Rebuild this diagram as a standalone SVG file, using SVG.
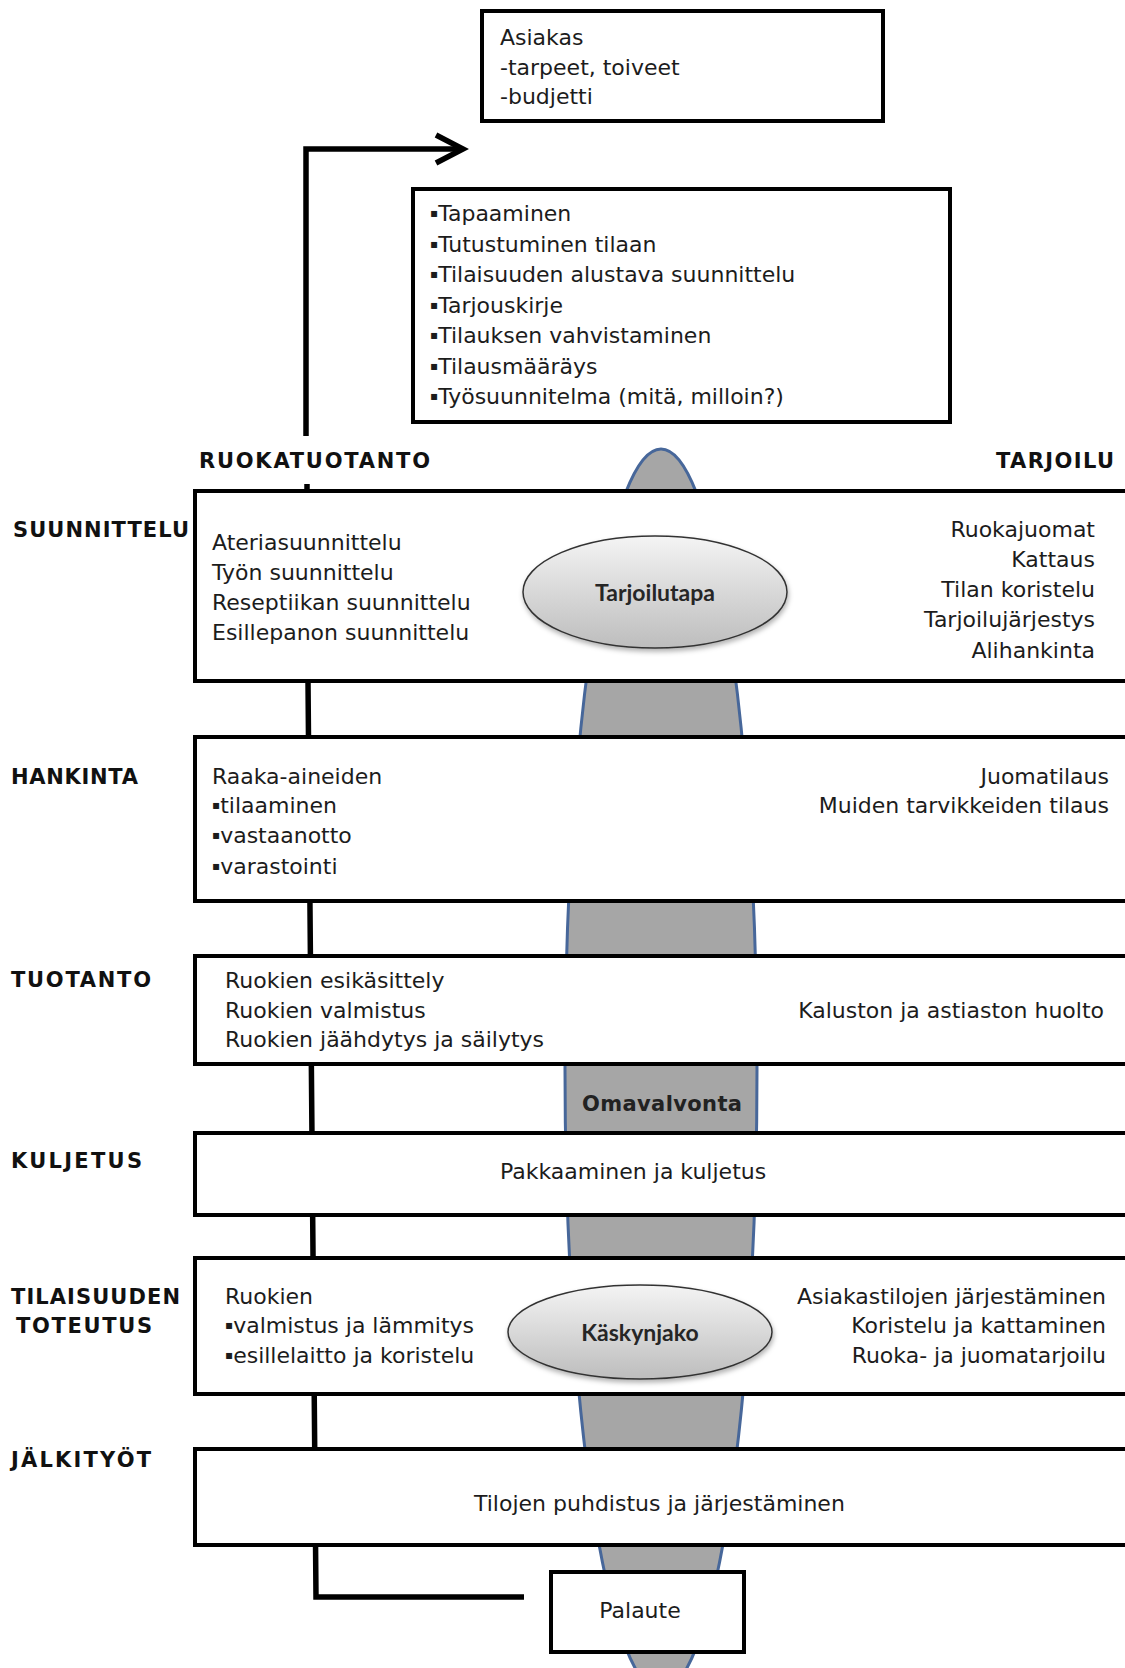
<svg xmlns="http://www.w3.org/2000/svg" width="1125" height="1668" viewBox="0 0 1125 1668">
<style>
.t{font-family:"DejaVu Sans",sans-serif;font-size:22px;fill:#1c1c1c}
.b{font-size:12px}
.r{text-anchor:end}
.m{text-anchor:middle}
.h{font-family:"DejaVu Sans",sans-serif;font-weight:bold;font-size:21px;fill:#111}
.box{fill:#fff;stroke:#000;stroke-width:4}
.conn{fill:none;stroke:#000;stroke-width:5.5}
.oval{stroke:#333;stroke-width:1.5;fill:url(#og)}
.ov{font-family:Lato,"Liberation Sans",sans-serif;font-weight:bold;font-size:23px;fill:#262626;text-anchor:middle}
.om{font-family:"DejaVu Sans",sans-serif;font-weight:bold;font-size:21px;fill:#222;text-anchor:middle}
</style>
<defs>
<linearGradient id="og" x1="0" y1="0" x2="0" y2="1">
<stop offset="0" stop-color="#f4f4f4"/>
<stop offset="1" stop-color="#bdbdbd"/>
</linearGradient>
<filter id="sh" x="-20%" y="-30%" width="140%" height="160%">
<feDropShadow dx="1" dy="3" stdDeviation="2.5" flood-color="#000" flood-opacity="0.3"/>
</filter>
</defs>
<rect width="1125" height="1668" fill="#fff"/>

<g id="spindle">
<ellipse cx="661" cy="1070" rx="96" ry="621" fill="#a6a6a6" stroke="#47679a" stroke-width="3"/>
</g>

<g id="connectors">
<polyline class="conn" points="306,436 306,149 463,149"/>
<polyline class="conn" points="436,135 463,149 436,163" stroke-linejoin="miter"/>
<line class="conn" x1="307" y1="484" x2="307" y2="493"/>
<polyline class="conn" points="308,681 316,1597 524,1597"/>
</g>

<g id="asiakas">
<rect class="box" x="482" y="11" width="401" height="110"/>
<text class="t" x="500" y="45">Asiakas</text>
<text class="t" x="500" y="75">-tarpeet, toiveet</text>
<text class="t" x="500" y="104">-budjetti</text>
</g>

<g id="tapaaminen">
<rect class="box" x="413" y="189" width="537" height="233"/>
<text class="t" x="430" y="221"><tspan class="b" dy="-4">▪</tspan><tspan dy="4">Tapaaminen</tspan></text>
<text class="t" x="430" y="251.5"><tspan class="b" dy="-4">▪</tspan><tspan dy="4">Tutustuminen tilaan</tspan></text>
<text class="t" x="430" y="282"><tspan class="b" dy="-4">▪</tspan><tspan dy="4">Tilaisuuden alustava  suunnittelu</tspan></text>
<text class="t" x="430" y="312.5"><tspan class="b" dy="-4">▪</tspan><tspan dy="4">Tarjouskirje</tspan></text>
<text class="t" x="430" y="343"><tspan class="b" dy="-4">▪</tspan><tspan dy="4">Tilauksen vahvistaminen</tspan></text>
<text class="t" x="430" y="373.5"><tspan class="b" dy="-4">▪</tspan><tspan dy="4">Tilausmääräys</tspan></text>
<text class="t" x="430" y="404"><tspan class="b" dy="-4">▪</tspan><tspan dy="4">Työsuunnitelma (mitä,  milloin?)</tspan></text>
</g>

<g id="headers">
<text class="h" x="199" y="468" textLength="231" lengthAdjust="spacing">RUOKATUOTANTO</text>
<text class="h" x="996" y="468" textLength="118" lengthAdjust="spacing">TARJOILU</text>
</g>

<g id="suunnittelu">
<text class="h" x="13" y="537" textLength="176" lengthAdjust="spacing">SUUNNITTELU</text>
<rect class="box" x="195" y="491" width="1000" height="190"/>
<text class="t" x="212" y="550">Ateriasuunnittelu</text>
<text class="t" x="212" y="580">Työn suunnittelu</text>
<text class="t" x="212" y="610">Reseptiikan suunnittelu</text>
<text class="t" x="212" y="640">Esillepanon suunnittelu</text>
<text class="t r" x="1095" y="537">Ruokajuomat</text>
<text class="t r" x="1095" y="567">Kattaus</text>
<text class="t r" x="1095" y="597">Tilan koristelu</text>
<text class="t r" x="1095" y="627">Tarjoilujärjestys</text>
<text class="t r" x="1095" y="658">Alihankinta</text>
</g>

<g id="tarjoilutapa">
<ellipse class="oval" cx="655" cy="592" rx="132" ry="56" filter="url(#sh)"/>
<text class="ov" x="655" y="601">Tarjoilutapa</text>
</g>

<g id="hankinta">
<text class="h" x="11" y="784" textLength="127" lengthAdjust="spacing">HANKINTA</text>
<rect class="box" x="195" y="737" width="1000" height="164"/>
<text class="t" x="212" y="784">Raaka-aineiden</text>
<text class="t" x="212" y="813"><tspan class="b" dy="-4">▪</tspan><tspan dy="4">tilaaminen</tspan></text>
<text class="t" x="212" y="843"><tspan class="b" dy="-4">▪</tspan><tspan dy="4">vastaanotto</tspan></text>
<text class="t" x="212" y="874"><tspan class="b" dy="-4">▪</tspan><tspan dy="4">varastointi</tspan></text>
<text class="t r" x="1109" y="784">Juomatilaus</text>
<text class="t r" x="1109" y="813">Muiden tarvikkeiden tilaus</text>
</g>

<g id="tuotanto">
<text class="h" x="11" y="987" textLength="140" lengthAdjust="spacing">TUOTANTO</text>
<rect class="box" x="195" y="956" width="1000" height="108"/>
<text class="t" x="225" y="988">Ruokien esikäsittely</text>
<text class="t" x="225" y="1018">Ruokien valmistus</text>
<text class="t" x="225" y="1047">Ruokien jäähdytys  ja säilytys</text>
<text class="t r" x="1104" y="1018">Kaluston ja astiaston  huolto</text>
</g>

<g id="omavalvonta">
<text class="om" x="662" y="1111" textLength="160" lengthAdjust="spacing">Omavalvonta</text>
</g>

<g id="kuljetus">
<text class="h" x="11" y="1168" textLength="131" lengthAdjust="spacing">KULJETUS</text>
<rect class="box" x="195" y="1133" width="1000" height="82"/>
<text class="t" x="500" y="1179">Pakkaaminen  ja kuljetus</text>
</g>

<g id="toteutus">
<text class="h" x="11" y="1304" textLength="169" lengthAdjust="spacing">TILAISUUDEN</text>
<text class="h" x="16" y="1333" textLength="136" lengthAdjust="spacing">TOTEUTUS</text>
<rect class="box" x="195" y="1258" width="1000" height="136"/>
<text class="t" x="225" y="1304">Ruokien</text>
<text class="t" x="225" y="1333"><tspan class="b" dy="-4">▪</tspan><tspan dy="4">valmistus ja lämmitys</tspan></text>
<text class="t" x="225" y="1363"><tspan class="b" dy="-4">▪</tspan><tspan dy="4">esillelaitto ja koristelu</tspan></text>
<text class="t r" x="1106" y="1304">Asiakastilojen järjestäminen</text>
<text class="t r" x="1106" y="1333">Koristelu ja kattaminen</text>
<text class="t r" x="1106" y="1363">Ruoka- ja juomatarjoilu</text>
</g>

<g id="kaskynjako">
<ellipse class="oval" cx="640" cy="1332" rx="132" ry="47" filter="url(#sh)"/>
<text class="ov" x="640" y="1341">Käskynjako</text>
</g>

<g id="jalkityot">
<text class="h" x="11" y="1467" textLength="140" lengthAdjust="spacing">JÄLKITYÖT</text>
<rect class="box" x="195" y="1449" width="1000" height="96"/>
<text class="t" x="474" y="1511">Tilojen puhdistus ja järjestäminen</text>
</g>

<g id="palaute">
<rect class="box" x="551" y="1572" width="193" height="80"/>
<text class="t m" x="640" y="1618">Palaute</text>
</g>
</svg>
